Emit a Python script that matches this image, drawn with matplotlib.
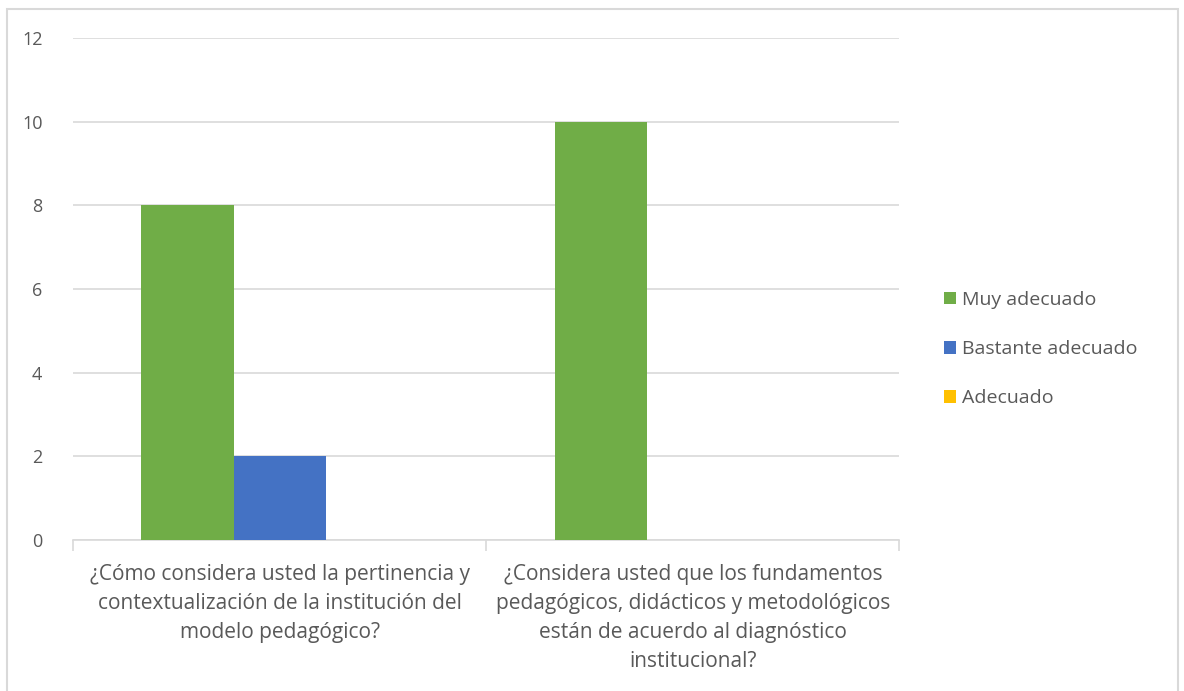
import matplotlib.pyplot as plt
from matplotlib.patches import Rectangle
import numpy as np

preguntas = [
    '¿Cómo considera usted la pertinencia y\ncontextualización de la institución del\nmodelo pedagógico?',
    '¿Considera usted que los fundamentos\npedagógicos, didácticos y metodológicos\nestán de acuerdo al diagnóstico\ninstitucional?',
]
series = ['Muy adecuado', 'Bastante adecuado', 'Adecuado']
muy_adecuado = [8, 10]
bastante_adecuado = [2, 0]
adecuado = [0, 0]
colores = ['#70AD47', '#4472C4', '#FFC000']

plt.rcParams['font.family'] = ['Open Sans', 'DejaVu Sans']

fig = plt.figure(figsize=(11.84, 6.91), dpi=100)
ax = fig.add_axes([0.0617, 0.2185, 0.698, 0.7265])

# borde exterior del grafico
fig.patches.append(Rectangle((7 / 1184, -0.01), 1171 / 1184, 1 - 9 / 691 + 0.01,
                             transform=fig.transFigure, fill=False,
                             edgecolor='#d9d9d9', linewidth=1.5))

x = np.arange(len(preguntas))
w = 0.223
valores = [muy_adecuado, bastante_adecuado, adecuado]
for i, (nombre, vals) in enumerate(zip(series, valores)):
    ax.bar(x + (i - 1) * w, vals, width=w, color=colores[i], label=nombre, zorder=3)

ax.set_xlim(-0.5, 1.5)
ax.set_ylim(0, 12)
ax.set_yticks(range(0, 13, 2))
ax.yaxis.grid(True, color='#d9d9d9', linewidth=1.2, zorder=0)
ax.tick_params(axis='y', length=0, pad=22, labelsize=13, labelcolor='#595959')

ax.set_xticks(x)
ax.set_xticklabels(preguntas, fontsize=15, color='#595959', linespacing=1.5)
ax.set_xticks([-0.5, 0.5, 1.5], minor=True)
ax.tick_params(axis='x', which='major', length=0, pad=17)
ax.tick_params(axis='x', which='minor', length=8, color='#d9d9d9', width=1.2)

for s in ['top', 'right', 'left']:
    ax.spines[s].set_visible(False)
ax.spines['bottom'].set_color('#d9d9d9')
ax.spines['bottom'].set_linewidth(1.2)

ax.legend(loc='center left', bbox_to_anchor=(1.033, 0.38), frameon=False,
          fontsize=14, labelcolor='#595959', handlelength=0.6, handleheight=0.6,
          handletextpad=0.3, labelspacing=1.6)

plt.savefig('out.png', dpi=100)
